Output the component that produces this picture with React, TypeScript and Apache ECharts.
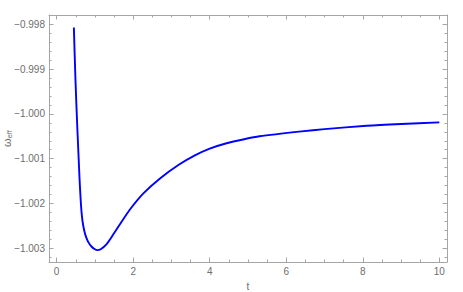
import React, { useEffect, useRef } from "react";
import * as echarts from "echarts";

const tValues = [0.45, 0.49, 0.53, 0.57, 0.6, 0.63, 0.66, 0.7, 0.75, 0.82, 0.91, 1.0, 1.06, 1.15, 1.3, 1.45, 1.65, 1.91, 2.26, 2.7, 3.2, 3.6, 4.0, 4.44, 4.9, 5.3, 6.4, 7.0, 8.1, 9.0, 10.0];
const wValues = [-0.99807, -0.9992, -1.0001, -1.0009, -1.00148, -1.00195, -1.00228, -1.00252, -1.0027, -1.00285, -1.00296, -1.00302, -1.00304, -1.00302, -1.00291, -1.00273, -1.00247, -1.00214, -1.00178, -1.00144, -1.00113, -1.00093, -1.000775, -1.000655, -1.000565, -1.0005, -1.00039, -1.00034, -1.000265, -1.000225, -1.00019];

const xMajorTicks = [0, 2, 4, 6, 8, 10];
const xMinorTicks = [0.5, 1, 1.5, 2.5, 3, 3.5, 4.5, 5, 5.5, 6.5, 7, 7.5, 8.5, 9, 9.5];
const yMajorTicks = [-1.003, -1.002, -1.001, -1.0, -0.999, -0.998];
const yMinorTicks: number[] = [];
for (let i = -1.0032; i <= -0.9978 + 1e-9; i += 0.0002) {
  const v = Math.round(i * 1e5) / 1e5;
  if (!yMajorTicks.some((m) => Math.abs(m - v) < 1e-7)) yMinorTicks.push(v);
}

const X_MIN = -0.2;
const X_MAX = 10.2;
const Y_MIN = -1.003306;
const Y_MAX = -0.997792;

const FRAME = "#a6a6a6";
const LABEL = "#6e6e6e";
const FONT = "Liberation Sans";

export default function App() {
  const ref = useRef<HTMLDivElement>(null);
  useEffect(() => {
    if (!ref.current) return;
    const chart = echarts.init(ref.current, null, { renderer: "svg" });
    const fmt = (v: number) => v.toFixed(3).replace("-", "\u2212");
    const xAxisBase = (position: "bottom" | "top", custom: number[], len: number, labels: boolean, line: boolean, name?: string) => ({
      type: "value",
      position,
      min: X_MIN,
      max: X_MAX,
      name: name ?? "",
      nameLocation: "middle",
      nameGap: 19,
      nameMoveOverlap: false,
      nameTextStyle: { color: LABEL, fontFamily: FONT, fontSize: 10 },
      axisLine: { show: line, onZero: false, lineStyle: { color: FRAME, width: 1 } },
      axisTick: { show: true, inside: true, length: len, customValues: custom, lineStyle: { color: FRAME, width: 1 } },
      axisLabel: { show: labels, customValues: custom, margin: 4, color: LABEL, fontFamily: FONT, fontSize: 10, formatter: (v: number) => String(v) },
      splitLine: { show: false },
    });
    const yAxisBase = (position: "left" | "right", custom: number[], len: number, labels: boolean, line: boolean, withName: boolean) => ({
      type: "value",
      position,
      min: Y_MIN,
      max: Y_MAX,
      name: withName ? "{w|\u03c9}{s|eff}" : "",
      nameLocation: "middle",
      nameRotate: 90,
      nameGap: 36,
      nameMoveOverlap: false,
      nameTextStyle: {
        color: LABEL,
        fontFamily: FONT,
        rich: {
          w: { fontSize: 11, color: LABEL, fontFamily: FONT },
          s: { fontSize: 7.5, color: LABEL, fontFamily: FONT, verticalAlign: "bottom", padding: [4, 0, 0, 0] },
        },
      },
      axisLine: { show: line, onZero: false, lineStyle: { color: FRAME, width: 1 } },
      axisTick: { show: true, inside: true, length: len, customValues: custom, lineStyle: { color: FRAME, width: 1 } },
      axisLabel: { show: labels, customValues: custom, margin: 4, color: LABEL, fontFamily: FONT, fontSize: 10, formatter: fmt },
      splitLine: { show: false },
    });
    chart.setOption({
      animation: false,
      grid: { left: 49, right: 16, top: 15, bottom: 30, containLabel: false, outerBoundsMode: "none" },
      xAxis: [
        xAxisBase("bottom", xMajorTicks, 4.5, true, true, "t"),
        xAxisBase("bottom", xMinorTicks, 2.5, false, false),
        xAxisBase("top", xMajorTicks, 4.5, false, true),
        xAxisBase("top", xMinorTicks, 2.5, false, false),
      ],
      yAxis: [
        yAxisBase("left", yMajorTicks, 4.5, true, true, true),
        yAxisBase("left", yMinorTicks, 2.5, false, false, false),
        yAxisBase("right", yMajorTicks, 4.5, false, true, false),
        yAxisBase("right", yMinorTicks, 2.5, false, false, false),
      ],
      series: [
        {
          type: "line",
          xAxisIndex: 0,
          yAxisIndex: 0,
          data: tValues.map((t, i) => [t, wValues[i]]),
          smooth: 0.25,
          showSymbol: false,
          lineStyle: { color: "#0000ff", width: 1.9 },
          clip: true,
        },
      ],
    });
    return () => chart.dispose();
  }, []);
  return <div ref={ref} style={{ position: "absolute", left: 0, top: 0, width: 463, height: 292, background: "#fff" }} />;
}
